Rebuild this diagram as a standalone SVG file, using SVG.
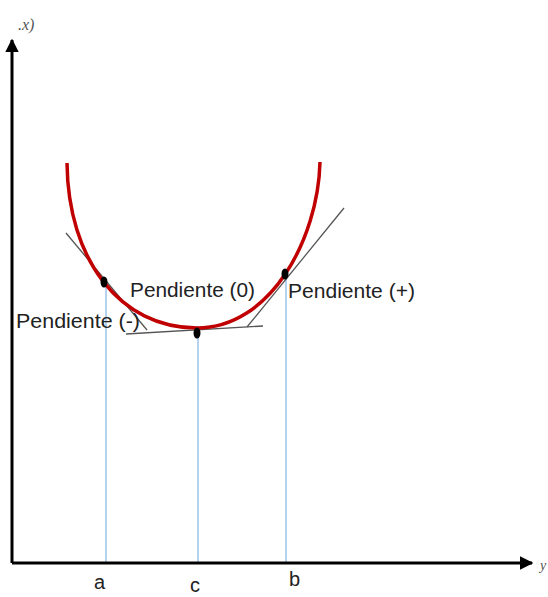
<svg xmlns="http://www.w3.org/2000/svg" width="548" height="597" viewBox="0 0 548 597">
<defs>
<style>
.axis{stroke:#000;stroke-width:3;fill:none}
.tan{stroke:#555;stroke-width:1.3;fill:none}
.proj{stroke:#9cc3ea;stroke-width:1.5;fill:none}
.lbl{font-family:"Liberation Sans",Arial,sans-serif;font-size:20px;fill:#222}
.dot{fill:#000}
</style>
<marker id="ah" viewBox="0 0 10 10" refX="9" refY="5" markerWidth="4.5" markerHeight="4.5" orient="auto" markerUnits="strokeWidth">
<path d="M0,0 L10,5 L0,10 z" fill="#000"/>
</marker>
</defs>
<rect width="548" height="597" fill="#fff"/>
<g id="connectors">
<line class="proj" x1="106" y1="282" x2="106" y2="563"/>
<line class="proj" x1="198" y1="332" x2="198" y2="563"/>
<line class="proj" x1="286" y1="275" x2="286" y2="563"/>
<line class="tan" x1="66" y1="233" x2="147" y2="330"/>
<line class="tan" x1="126" y1="334" x2="263" y2="326"/>
<line class="tan" x1="247" y1="327" x2="344" y2="208"/>
<line class="axis" x1="12" y1="563" x2="12" y2="40" marker-end="url(#ah)"/>
<line class="axis" x1="12" y1="563" x2="532" y2="563" marker-end="url(#ah)"/>
</g>
<g id="curve">
<path d="M67,163 C68,260 120,328 197,328 C270,328 318,240 320,162" fill="none" stroke="#c00000" stroke-width="3.5"/>
</g>
<g id="point-a"><ellipse class="dot" cx="104" cy="282" rx="3.5" ry="5.5"/></g>
<g id="point-c"><ellipse class="dot" cx="197" cy="333" rx="3.5" ry="5.5"/></g>
<g id="point-b"><ellipse class="dot" cx="285" cy="274" rx="3.5" ry="5.5"/></g>
<g id="labels">
<text class="lbl" x="130" y="297" textLength="125" lengthAdjust="spacingAndGlyphs">Pendiente (0)</text>
<text class="lbl" x="288" y="298" textLength="127" lengthAdjust="spacingAndGlyphs">Pendiente (+)</text>
<text class="lbl" x="16" y="328" textLength="124" lengthAdjust="spacingAndGlyphs">Pendiente (-)</text>
<text class="lbl" x="94" y="589">a</text>
<text class="lbl" x="190" y="592">c</text>
<text class="lbl" x="289" y="586">b</text>
<text x="18" y="30" font-family="Liberation Serif,serif" font-style="italic" font-size="16" fill="#555">.x)</text>
<text x="540" y="570" font-family="Liberation Serif,serif" font-style="italic" font-size="14" fill="#555">y</text>
</g>
</svg>
